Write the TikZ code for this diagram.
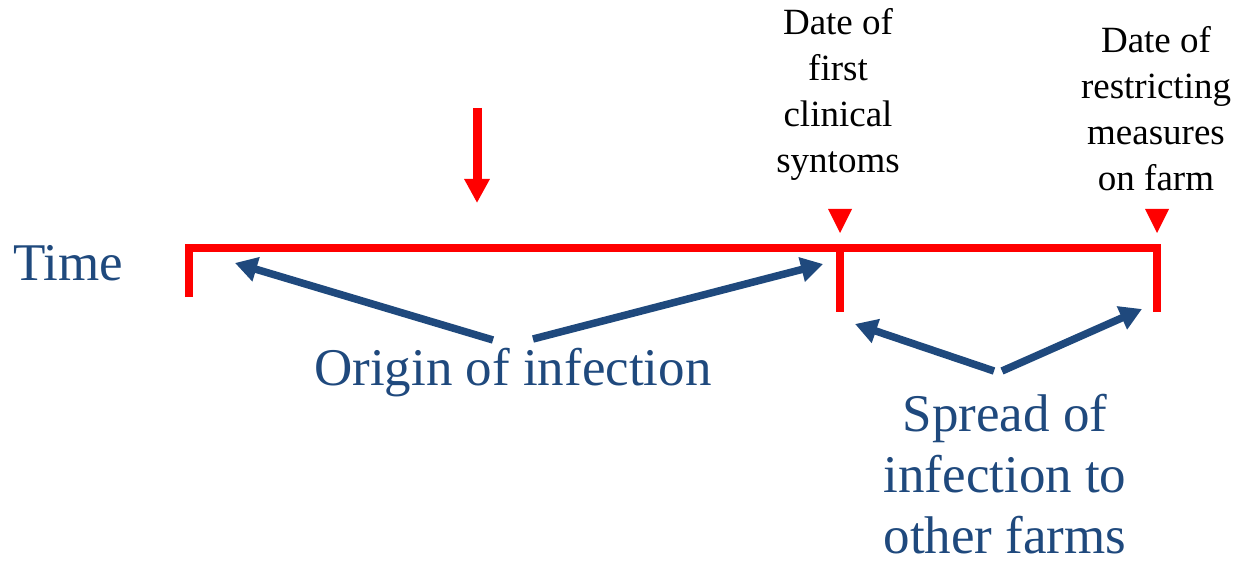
\documentclass[tikz,border=0pt]{standalone}
\usepackage{fontspec}
\setmainfont{Liberation Serif}
\usetikzlibrary{arrows.meta}
\definecolor{tblue}{RGB}{31,73,125}
\begin{document}
\begin{tikzpicture}[x=1pt,y=-1pt]
\useasboundingbox (0,0) rectangle (1236,561);
\tikzset{
  redline/.style={draw=red, line width=8pt, line cap=butt, line join=miter},
  bluearrow/.style={draw=tblue, line width=7.5pt, line cap=butt, -{Triangle[width=24pt,length=22pt]}},
  redarrow/.style={draw=red, line width=9pt, line cap=butt, -{Triangle[width=24pt,length=24pt]}},
  marker/.style={fill=red},
  bigtext/.style={text=tblue, font=\fontsize{53}{61}\selectfont, inner sep=0pt},
  smalltext/.style={font=\fontsize{37}{46}\selectfont, align=center, inner sep=0pt, anchor=north},
}
% timeline
\coordinate (L0) at (189,297);
\coordinate (L1) at (189,248);
\coordinate (M0) at (840,248);
\coordinate (M1) at (840,312);
\coordinate (R0) at (1157,248);
\coordinate (R1) at (1157,312);
\draw[redline] (L0) -- (L1) -- (R0) -- (R1);
\draw[redline] (M0) -- (M1);
% red arrow
\coordinate (A0) at (477,108);
\coordinate (A1) at (477,203);
\draw[redarrow] (A0) -- (A1);
% markers
\fill[marker] (828,209) -- (852,209) -- (840,233) -- cycle;
\fill[marker] (1145,209) -- (1169,209) -- (1157,233) -- cycle;
% texts
\node[bigtext, anchor=base west] (time) at (13,280) {Time};
\node[bigtext, anchor=base west] (origin) at (314,385) {Origin of infection};
\node[bigtext, align=center, anchor=north] (spread) at (1005,394) {Spread of\\infection to\\other farms};
\node[smalltext] (first) at (838,8) {Date of\\first\\clinical\\syntoms};
\node[smalltext] (restrict) at (1156,26) {Date of\\restricting\\measures\\on farm};
% blue arrows
\coordinate (o1) at (493,340);
\coordinate (t1) at (235,263);
\coordinate (o2) at (533,339);
\coordinate (t2) at (823,264);
\coordinate (s1) at (994,371);
\coordinate (t3) at (855,324);
\coordinate (s2) at (1002,371);
\coordinate (t4) at (1142,309);
\draw[bluearrow] (o1) -- (t1);
\draw[bluearrow] (o2) -- (t2);
\draw[bluearrow] (s1) -- (t3);
\draw[bluearrow] (s2) -- (t4);
\end{tikzpicture}
\end{document}
